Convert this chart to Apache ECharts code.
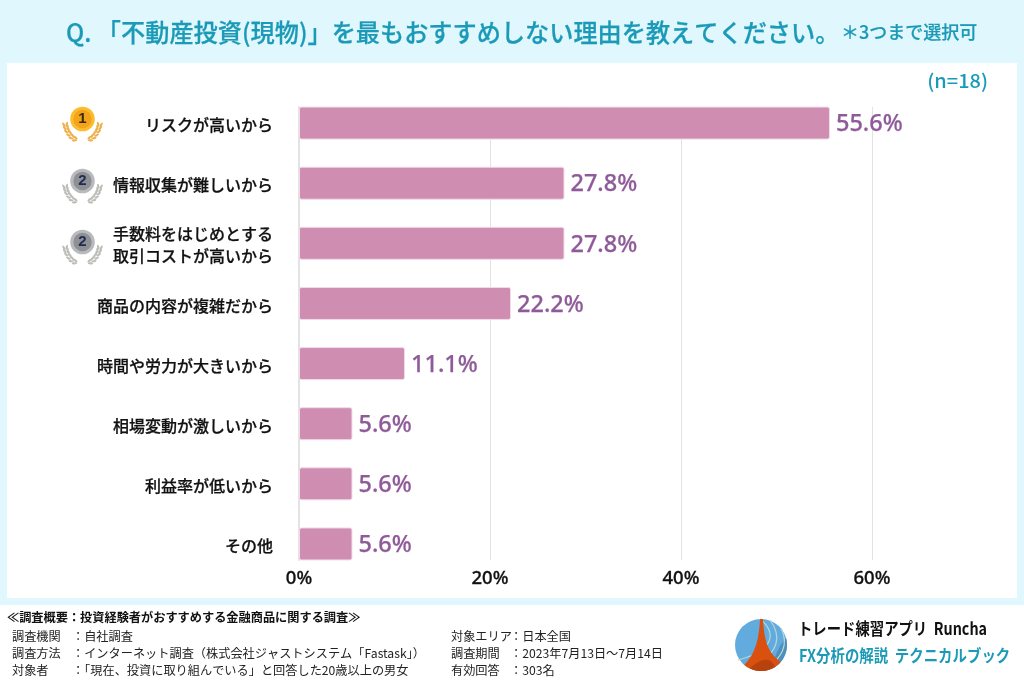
<!DOCTYPE html>
<html><head><meta charset="utf-8">
<style>html,body{margin:0;padding:0;background:#fff}#c{width:1024px;height:683px}</style>
<script src="https://cdn.jsdelivr.net/npm/echarts@6/dist/echarts.min.js"></script>
</head><body><div id="c"></div>
<script>
const categories = ['リスクが高いから','情報収集が難しいから','手数料をはじめとする\n取引コストが高いから','商品の内容が複雑だから','時間や労力が大きいから','相場変動が激しいから','利益率が低いから','その他'];
const values = [55.6,27.8,27.8,22.2,11.1,5.6,5.6,5.6];
const titleText = 'Q. 「不動産投資(現物)」を最もおすすめしない理由を教えてください。';
const noteText = '＊3つまで選択可';
const sampleText = '(n=18)';
const footerHead = '≪調査概要：投資経験者がおすすめする金融商品に関する調査≫';
const footerLeftKeys = ['調査機関','調査方法','対象者'];
const footerLeftVals = ['：自社調査','：インターネット調査（株式会社ジャストシステム「Fastask」）','：「現在、投資に取り組んでいる」と回答した20歳以上の男女'];
const footerRightKeys = ['対象エリア','調査期間','有効回答'];
const footerRightVals = ['：日本全国','：2023年7月13日〜7月14日','：303名'];
const logoLine1 = 'トレード練習アプリ  Runcha';
const logoLine2 = 'FX分析の解説  テクニカルブック';

const JP = '"Noto Sans CJK JP","Noto Sans",sans-serif';
const TEAL = '#1b9ab8';
const g = [];
function rect(x,y,w,h,fill,z){g.push({type:'rect',shape:{x,y,width:w,height:h},style:{fill},z:z||1,silent:true});}
function text(x,y,t,font,fill,align,sx,bw){g.push({type:'text',x,y,scaleX:sx||1,style:{text:t,font,fill,textAlign:align||'left',textVerticalAlign:'middle',stroke:bw?fill:null,lineWidth:bw||0},z:20,silent:true});}

rect(0,0,1024,683,'#e0f7fd',-10);
rect(7,63,1010,535,'#ffffff',-9);
rect(0,605,1024,78,'#ffffff',-9);

text(66,32,titleText,'500 25px '+JP,TEAL,'left',0.967,0.25);
text(841,32,noteText,'500 18px '+JP,TEAL,'left',1,0.2);
text(988,81,sampleText,'500 19px '+JP,TEAL,'right',1.05);
text(7,617,footerHead,'bold 12.2px '+JP,'#111');
[636,653,670].forEach((y,i)=>{
  text(12,y,footerLeftKeys[i],'12.2px '+JP,'#222');
  text(72,y,footerLeftVals[i],'12.2px '+JP,'#222');
  text(451,y,footerRightKeys[i],'12.2px '+JP,'#222');
  text(510,y,footerRightVals[i],'12.2px '+JP,'#222');
});
text(798,629,logoLine1,'bold 16.5px '+JP,'#111','left',0.87);
text(799,656,logoLine2,'bold 16.5px '+JP,TEAL,'left',0.875);

// medals
function medal(cx,cy,num,face,rim,leaf,ink){
  for(const s of [-1,1]){
    [[7.5,20,70],[10.5,18,55],[13,15.2,42],[15,12,28],[16.3,8.8,16],[17.2,5.5,8]].forEach(p=>{
      const a=p[2]*Math.PI/180, nx=Math.cos(a), ny=Math.sin(a);
      for(const side of [-1,1]){
        g.push({type:'ellipse',x:cx+s*(p[0]+side*1.5*nx),y:cy+p[1]+side*1.5*ny,rotation:-s*(p[2]+side*22)*Math.PI/180,shape:{cx:0,cy:0,rx:1.1,ry:2.6},style:{fill:leaf},z:20,silent:true});
      }
    });
  }
  g.push({type:'circle',shape:{cx,cy,r:12.3},style:{fill:rim},z:21,silent:true});
  g.push({type:'circle',shape:{cx,cy,r:9.2},style:{fill:face},z:22,silent:true});
  g.push({type:'text',x:cx,y:cy,style:{text:num,font:'bold 15px "Liberation Sans"',fill:ink,textAlign:'center',textVerticalAlign:'middle'},z:23,silent:true});
}
medal(82.5,119,'1','#f3a41b','#fbbd2c','#eeb04a','#3a2a10');
medal(82.5,181,'2','#8f9094','#b9babd','#bdbdb8','#1f2a55');
medal(82.5,242,'2','#8f9094','#b9babd','#bdbdb8','#1f2a55');

// logo
const LX=761, LY=645, LR=26;
function arcPts(a0,a1,n){const r=[];for(let i=0;i<=n;i++){const a=(a0+(a1-a0)*i/n)*Math.PI/180;r.push([LX+LR*Math.cos(a),LY+LR*Math.sin(a)]);}return r;}
function bez(p0,c0,c1,p1,n){const r=[];for(let i=0;i<=n;i++){const t=i/n,u=1-t;r.push([0,1].map(k=>u*u*u*p0[k]+3*u*u*t*c0[k]+3*u*t*t*c1[k]+t*t*t*p1[k]));}return r;}
function poly(points,fill,z){g.push({type:'polygon',shape:{points},style:{fill},z,silent:true});}
function curve(a,b,c,d){g.push({type:'bezierCurve',shape:{x1:a[0],y1:a[1],cpx1:b[0],cpy1:b[1],cpx2:c[0],cpy2:c[1],x2:d[0],y2:d[1]},style:{fill:'none',stroke:'#b5d8d8',lineWidth:1.2},z:22,silent:true});}
g.push({type:'circle',shape:{cx:LX,cy:LY,r:LR},style:{fill:'#62abdf'},z:20,silent:true});
poly(arcPts(-15,65,24).concat(bez([772,669],[775,655],[778,648],[786,638],12)),'#4f8fbb',21);
curve([770,620],[782,636],[778,652],[758,664]);
curve([760,619],[776,632],[776,650],[738,660]);
curve([781,628],[790,646],[780,658],[768,668]);
poly(bez([760,619],[759,640],[755,654],[744,665],16).concat(arcPts(139,41,24)).concat(bez([781,662],[768,654],[764,640],[763,619],16)),'#d9500f',23);
poly(bez([750,668],[762,658],[770,656],[775,667],10).concat(arcPts(58,112,12)),'#b8420e',24);

const chart = echarts.init(document.getElementById('c'),null,{renderer:'canvas'});
chart.setOption({
  animation:false,
  backgroundColor:'transparent',
  grid:[
    {left:299,top:93,width:573,height:481},
    {left:299,top:107,width:573,height:453},
    {left:299,top:95,width:573,height:481}
  ],
  xAxis:[
    {type:'value',gridIndex:0,min:0,max:60,interval:20,
      axisLine:{show:false},axisTick:{show:false},splitLine:{show:false},
      axisLabel:{formatter:'{value}%',color:'#111',fontSize:18.5,fontFamily:'"Noto Sans",sans-serif',fontWeight:500,margin:-5,textBorderColor:'#111',textBorderWidth:0.3}},
    {type:'value',gridIndex:1,min:0,max:60,interval:20,
      axisLine:{show:false},axisTick:{show:false},axisLabel:{show:false},
      splitLine:{show:true,lineStyle:{color:'#e3e3e3',width:1}}},
    {type:'value',gridIndex:2,min:0,max:60,interval:20,show:false}
  ],
  yAxis:[
    {type:'category',gridIndex:0,inverse:true,data:categories,
      axisLine:{show:false},axisTick:{show:false},axisLabel:{show:false}},
    {type:'category',gridIndex:1,inverse:true,data:categories,
      axisLine:{show:true,lineStyle:{color:'#e3e3e3',width:2}},axisTick:{show:false},axisLabel:{show:false}},
    {type:'category',gridIndex:2,inverse:true,data:categories,
      axisLine:{show:false},axisTick:{show:false},
      axisLabel:{color:'#111',fontSize:16,fontFamily:JP,fontWeight:500,margin:26,lineHeight:22,align:'right',textBorderColor:'#111',textBorderWidth:0.25}}
  ],
  series:[{type:'bar',xAxisIndex:0,yAxisIndex:0,data:values,barWidth:33,z:10,
    itemStyle:{color:'#cf8db2',borderColor:'#f0dbe7',borderWidth:1,borderRadius:2},
    label:{show:true,position:'right',distance:6,offset:[0,1.5],formatter:p=>p.value.toFixed(1)+'%',color:'#8f5a99',fontSize:23.5,fontFamily:'"Noto Sans",sans-serif',fontWeight:500,textBorderColor:'#8f5a99',textBorderWidth:0.25}}],
  graphic:{elements:g}
});
</script></body></html>
